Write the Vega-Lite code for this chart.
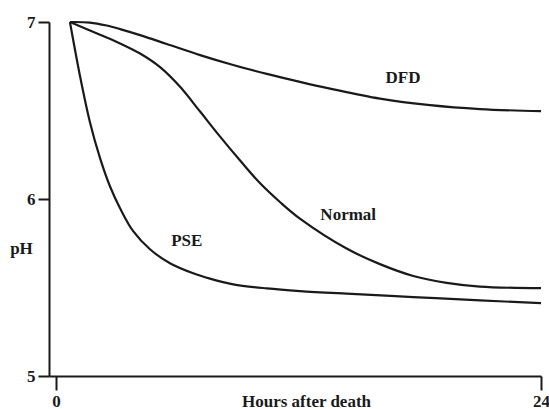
{
  "$schema": "https://vega.github.io/schema/vega-lite/v6.json",
  "width": 492,
  "height": 354,
  "autosize": {"type": "none"},
  "padding": {"left": 49, "top": 22, "right": 8, "bottom": 33},
  "background": "white",
  "config": {
    "view": {"stroke": null},
    "axis": {
      "grid": false,
      "domainColor": "#1a1a1a",
      "domainWidth": 2,
      "tickColor": "#1a1a1a",
      "tickWidth": 2,
      "labelFont": "Liberation Serif",
      "labelFontWeight": "bold",
      "labelFontSize": 17,
      "labelColor": "#1a1a1a",
      "titleFont": "Liberation Serif",
      "titleFontWeight": "bold",
      "titleFontSize": 17,
      "titleColor": "#1a1a1a",
      "labelOverlap": false,
      "labelFlush": false,
      "format": "d"
    }
  },
  "layer": [
    {
      "data": {
        "values": [
          {"series": "DFD", "hours": 0.69, "pH": 7.0},
          {"series": "DFD", "hours": 1.68, "pH": 6.997},
          {"series": "DFD", "hours": 2.51, "pH": 6.98},
          {"series": "DFD", "hours": 3.17, "pH": 6.96},
          {"series": "DFD", "hours": 4.16, "pH": 6.926},
          {"series": "DFD", "hours": 5.48, "pH": 6.876},
          {"series": "DFD", "hours": 7.13, "pH": 6.813},
          {"series": "DFD", "hours": 8.77, "pH": 6.757},
          {"series": "DFD", "hours": 10.43, "pH": 6.707},
          {"series": "DFD", "hours": 12.07, "pH": 6.662},
          {"series": "DFD", "hours": 13.56, "pH": 6.624},
          {"series": "DFD", "hours": 16.03, "pH": 6.567},
          {"series": "DFD", "hours": 18.51, "pH": 6.53},
          {"series": "DFD", "hours": 20.98, "pH": 6.508},
          {"series": "DFD", "hours": 24, "pH": 6.496},
          {"series": "Normal", "hours": 0.69, "pH": 7.0},
          {"series": "Normal", "hours": 2.18, "pH": 6.928},
          {"series": "Normal", "hours": 3.17, "pH": 6.879},
          {"series": "Normal", "hours": 4.16, "pH": 6.822},
          {"series": "Normal", "hours": 5.15, "pH": 6.745},
          {"series": "Normal", "hours": 6.14, "pH": 6.634},
          {"series": "Normal", "hours": 7.13, "pH": 6.494},
          {"series": "Normal", "hours": 8.11, "pH": 6.354},
          {"series": "Normal", "hours": 9.1, "pH": 6.219},
          {"series": "Normal", "hours": 10.09, "pH": 6.09},
          {"series": "Normal", "hours": 11.08, "pH": 5.983},
          {"series": "Normal", "hours": 12.07, "pH": 5.889},
          {"series": "Normal", "hours": 14.38, "pH": 5.72},
          {"series": "Normal", "hours": 16.03, "pH": 5.632},
          {"series": "Normal", "hours": 17.68, "pH": 5.565},
          {"series": "Normal", "hours": 19.33, "pH": 5.526},
          {"series": "Normal", "hours": 20.98, "pH": 5.505},
          {"series": "Normal", "hours": 24, "pH": 5.496},
          {"series": "PSE", "hours": 0.69, "pH": 7.0},
          {"series": "PSE", "hours": 1.19, "pH": 6.694},
          {"series": "PSE", "hours": 1.68, "pH": 6.434},
          {"series": "PSE", "hours": 2.18, "pH": 6.231},
          {"series": "PSE", "hours": 2.67, "pH": 6.072},
          {"series": "PSE", "hours": 3.17, "pH": 5.948},
          {"series": "PSE", "hours": 3.82, "pH": 5.818},
          {"series": "PSE", "hours": 4.65, "pH": 5.716},
          {"series": "PSE", "hours": 5.64, "pH": 5.637},
          {"series": "PSE", "hours": 6.79, "pH": 5.58},
          {"series": "PSE", "hours": 7.62, "pH": 5.55},
          {"series": "PSE", "hours": 8.77, "pH": 5.518},
          {"series": "PSE", "hours": 10.43, "pH": 5.495},
          {"series": "PSE", "hours": 12.07, "pH": 5.48},
          {"series": "PSE", "hours": 14.38, "pH": 5.465},
          {"series": "PSE", "hours": 17.68, "pH": 5.446},
          {"series": "PSE", "hours": 20.98, "pH": 5.427},
          {"series": "PSE", "hours": 24, "pH": 5.412}
        ]
      },
      "mark": {"type": "line", "interpolate": "catmull-rom", "color": "#1a1a1a", "strokeWidth": 2.2},
      "encoding": {
        "x": {
          "field": "hours",
          "type": "quantitative",
          "scale": {"domain": [-0.346, 24], "nice": false, "zero": false},
          "axis": {
            "values": [0, 24],
            "title": "Hours after death",
            "titleX": 257,
            "titleY": 30,
            "titleAlign": "center",
            "titleBaseline": "alphabetic",
            "tickSize": 14,
            "labelBaseline": "alphabetic",
            "labelPadding": 16
          }
        },
        "y": {
          "field": "pH",
          "type": "quantitative",
          "scale": {"domain": [5, 7], "nice": false, "zero": false},
          "axis": {
            "values": [5, 6, 7],
            "title": "pH",
            "titleAngle": 0,
            "titleX": -28,
            "titleY": 226,
            "titleAlign": "center",
            "titleBaseline": "middle",
            "tickSize": 11,
            "labelPadding": 3
          }
        },
        "detail": {"field": "series"}
      }
    },
    {
      "data": {
        "values": [
          {"label": "DFD", "hours": 17.17, "pH": 6.683},
          {"label": "Normal", "hours": 14.46, "pH": 5.912},
          {"label": "PSE", "hours": 6.47, "pH": 5.763}
        ]
      },
      "mark": {"type": "text", "font": "Liberation Serif", "fontWeight": "bold", "fontSize": 17, "color": "#1a1a1a", "baseline": "middle", "align": "center"},
      "encoding": {
        "x": {"field": "hours", "type": "quantitative"},
        "y": {"field": "pH", "type": "quantitative"},
        "text": {"field": "label"}
      }
    }
  ]
}
